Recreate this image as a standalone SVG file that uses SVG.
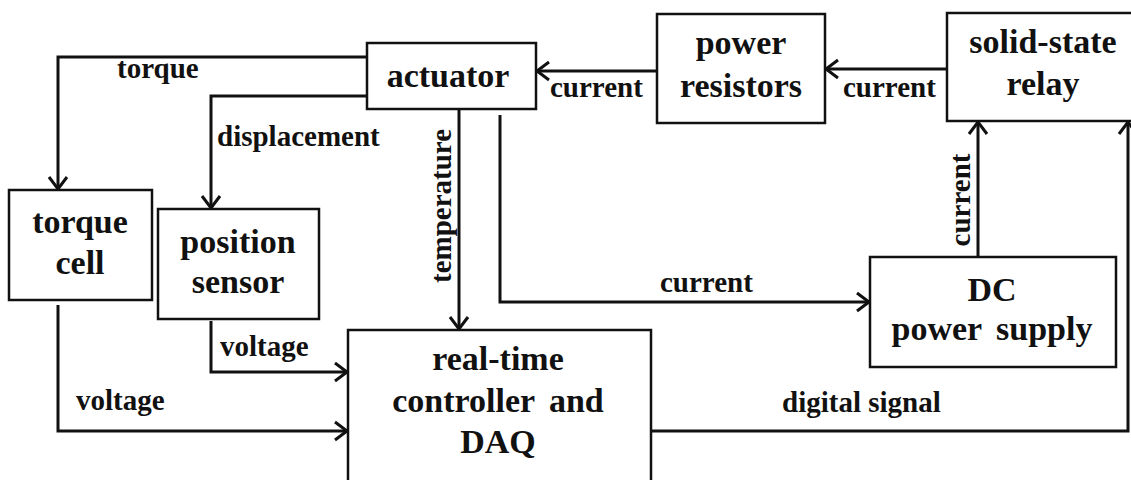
<svg xmlns="http://www.w3.org/2000/svg" width="1131" height="480" viewBox="0 0 1131 480">
<style>
.box{fill:#fff;stroke:#111;stroke-width:2.5}
.bt{font-family:"Liberation Serif","Times New Roman",serif;font-weight:bold;font-size:34px;fill:#111;text-anchor:middle}
.lb{font-family:"Liberation Serif","Times New Roman",serif;font-weight:bold;font-size:29px;fill:#111}
.ln{fill:none;stroke:#111;stroke-width:3}
</style>
<defs>
<marker id="ah" markerUnits="userSpaceOnUse" markerWidth="20" markerHeight="24" refX="14" refY="12" orient="auto">
<path d="M2,3 L14,12 L2,21" fill="none" stroke="#111" stroke-width="3"/>
</marker>
</defs>
<rect width="1131" height="480" fill="#fff"/>
<g id="connectors">
<path class="ln" d="M367,57 H58 V189" marker-end="url(#ah)"/>
<path class="ln" d="M367,96 H211 V208" marker-end="url(#ah)"/>
<path class="ln" d="M947,69 H826" marker-end="url(#ah)"/>
<path class="ln" d="M657,71 H537" marker-end="url(#ah)"/>
<path class="ln" d="M459,109 V329" marker-end="url(#ah)"/>
<path class="ln" d="M500,115 V302 H869" marker-end="url(#ah)"/>
<path class="ln" d="M978,257 V122" marker-end="url(#ah)"/>
<path class="ln" d="M651,431 H1128 V122" marker-end="url(#ah)"/>
<path class="ln" d="M211,321 V372 H347" marker-end="url(#ah)"/>
<path class="ln" d="M58,305 V431 H347" marker-end="url(#ah)"/>
<text class="lb" x="117" y="78">torque</text>
<text class="lb" x="217" y="146">displacement</text>
<text class="lb" x="550" y="97">current</text>
<text class="lb" x="843" y="97">current</text>
<text class="lb" x="660" y="292">current</text>
<text class="lb" x="220" y="356">voltage</text>
<text class="lb" x="76" y="410">voltage</text>
<text class="lb" x="782" y="412">digital signal</text>
<text class="lb" transform="translate(451,206) rotate(-90)" text-anchor="middle">temperature</text>
<text class="lb" transform="translate(970,200) rotate(-90)" text-anchor="middle">current</text>
</g>
<g id="actuator">
<rect class="box" x="367" y="43" width="169" height="66"/>
<text class="bt" x="448" y="87">actuator</text>
</g>
<g id="power-resistors">
<rect class="box" x="657" y="14" width="168" height="109"/>
<text class="bt" x="741" y="54">power</text>
<text class="bt" x="741" y="97">resistors</text>
</g>
<g id="solid-state-relay">
<rect class="box" x="947" y="13" width="190" height="108"/>
<text class="bt" x="1043" y="53">solid-state</text>
<text class="bt" x="1043" y="95">relay</text>
</g>
<g id="torque-cell">
<rect class="box" x="9" y="190" width="143" height="110"/>
<text class="bt" x="80" y="233">torque</text>
<text class="bt" x="80" y="274">cell</text>
</g>
<g id="position-sensor">
<rect class="box" x="158" y="209" width="161" height="110"/>
<text class="bt" x="238" y="253">position</text>
<text class="bt" x="238" y="293">sensor</text>
</g>
<g id="dc-power-supply">
<rect class="box" x="870" y="257" width="246" height="110"/>
<text class="bt" x="992" y="301">DC</text>
<text class="bt" x="992" y="340" word-spacing="6">power supply</text>
</g>
<g id="controller">
<rect class="box" x="348" y="330" width="303" height="170"/>
<text class="bt" x="498" y="370">real-time</text>
<text class="bt" x="498" y="412" word-spacing="6">controller and</text>
<text class="bt" x="498" y="453">DAQ</text>
</g>
</svg>
